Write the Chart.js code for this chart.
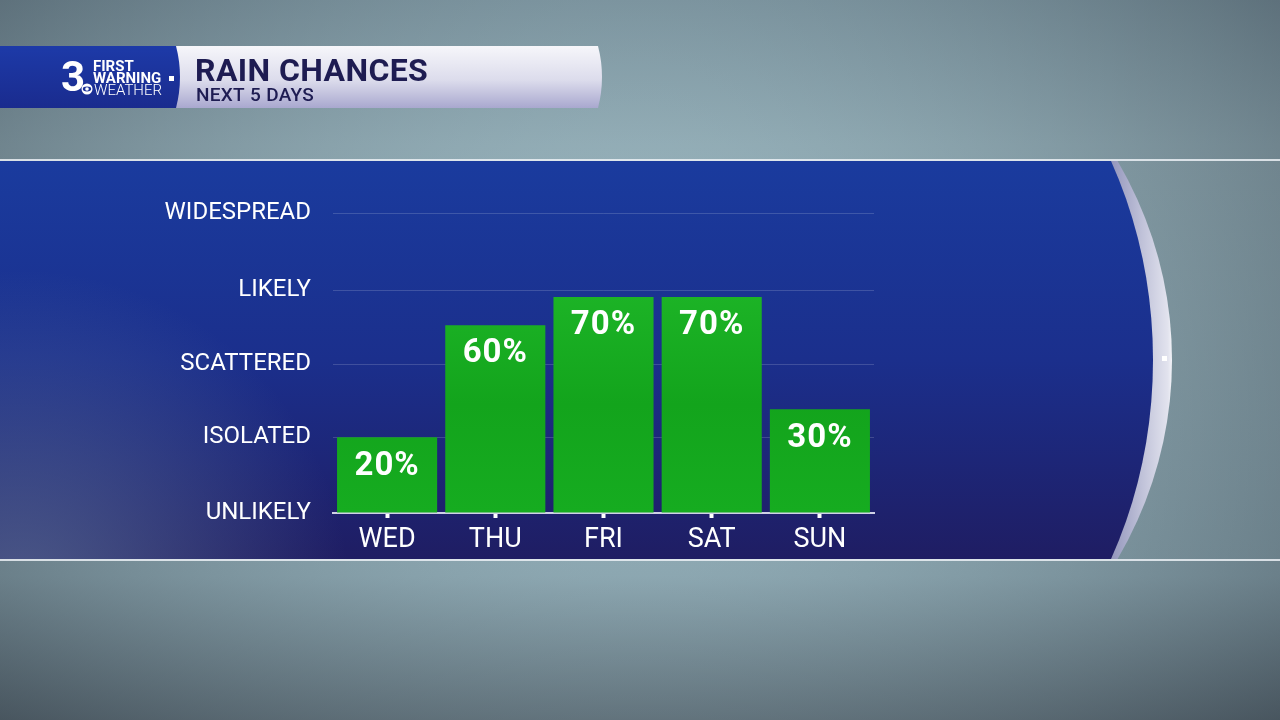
<!DOCTYPE html>
<html>
<head>
<meta charset="utf-8">
<script src="https://cdn.jsdelivr.net/npm/chart.js@4"></script>
<style>
  html, body { margin: 0; padding: 0; background: #6f8893; }
  #wrap { width: 1280px; height: 720px; position: relative; }
</style>
</head>
<body>
<div id="wrap"><canvas id="rainChart" width="1280" height="720"></canvas></div>
<script>
const days = ['WED', 'THU', 'FRI', 'SAT', 'SUN']
const rainChance = [20, 60, 70, 70, 30]
const levelLabels = ['UNLIKELY', 'ISOLATED', 'SCATTERED', 'LIKELY', 'WIDESPREAD']
const levelValues = [-7, 20, 46, 72.5, 100]

// painted backdrop: rainy window, blue panel with curved edge, title bar
const backdrop = {
    id: 'backdrop',
    beforeDraw: (chart) => {
        const ctx = chart.ctx
        ctx.save()
        // window background
        let g = ctx.createLinearGradient(0, 0, 0, 720)
        g.addColorStop(0, '#7f98a3')
        g.addColorStop(0.2, '#93adb6')
        g.addColorStop(0.8, '#88a2ac')
        g.addColorStop(1, '#56646d')
        ctx.fillStyle = g
        ctx.fillRect(0, 0, 1280, 720)
        let r = ctx.createRadialGradient(640, 380, 150, 640, 380, 800)
        r.addColorStop(0, 'rgba(160,190,200,0.25)')
        r.addColorStop(1, 'rgba(40,50,60,0.45)')
        ctx.fillStyle = r
        ctx.fillRect(0, 0, 1280, 720)

        // light rules top and bottom of panel
        ctx.fillStyle = 'rgba(235,240,245,0.85)'
        ctx.fillRect(0, 159, 1280, 2)
        ctx.fillRect(0, 559, 1280, 2)

        ctx.beginPath()
        ctx.rect(0, 161, 1280, 398)
        ctx.clip()

        // silver ring (crescent)
        let s = ctx.createLinearGradient(1105, 0, 1175, 0)
        s.addColorStop(0, '#8a8db6')
        s.addColorStop(0.55, '#c2c4da')
        s.addColorStop(0.9, '#e2e3ee')
        s.addColorStop(1, '#ffffff')
        ctx.fillStyle = s
        ctx.beginPath()
        ctx.ellipse(716, 360, 456, 420, 0, 0, Math.PI * 2)
        ctx.fill()

        // blue panel
        let b = ctx.createLinearGradient(0, 161, 0, 559)
        b.addColorStop(0, '#1a3b9e')
        b.addColorStop(0.5, '#1b2f8c')
        b.addColorStop(1, '#1f1d63')
        ctx.fillStyle = b
        ctx.beginPath()
        ctx.ellipse(801, 360, 352, 420, 0, 0, Math.PI * 2)
        ctx.fill()
        ctx.fillRect(0, 161, 800, 398)

        let low = ctx.createRadialGradient(20, 600, 10, 20, 600, 330)
        low.addColorStop(0, 'rgba(105,128,160,0.6)')
        low.addColorStop(1, 'rgba(105,128,160,0)')
        ctx.fillStyle = low
        ctx.fillRect(0, 161, 700, 398)
        ctx.restore()

        // small marker on the ring
        ctx.fillStyle = '#ffffff'
        ctx.fillRect(1162, 356, 5, 5)

        // title bar
        ctx.save()
        let w = ctx.createLinearGradient(0, 46, 0, 108)
        w.addColorStop(0, '#f6f6fa')
        w.addColorStop(0.55, '#dcdcec')
        w.addColorStop(1, '#a9a8cf')
        ctx.fillStyle = w
        ctx.beginPath()
        ctx.moveTo(170, 46)
        ctx.lineTo(598, 46)
        ctx.quadraticCurveTo(606, 77, 598, 108)
        ctx.lineTo(170, 108)
        ctx.closePath()
        ctx.fill()

        let lb = ctx.createLinearGradient(0, 46, 0, 108)
        lb.addColorStop(0, '#1d3aa8')
        lb.addColorStop(1, '#1a2b8e')
        ctx.fillStyle = lb
        ctx.beginPath()
        ctx.moveTo(0, 46)
        ctx.lineTo(176, 46)
        ctx.quadraticCurveTo(184, 77, 176, 108)
        ctx.lineTo(0, 108)
        ctx.closePath()
        ctx.fill()

        ctx.fillStyle = '#ffffff'
        ctx.textBaseline = 'alphabetic'
        ctx.textAlign = 'left'
        ctx.font = 'bold 42px Roboto'
        ctx.fillText('3', 61, 91)
        ctx.font = 'bold 15px Roboto'
        ctx.fillText('FIRST', 93, 71)
        ctx.fillText('WARNING', 93, 83)
        ctx.fillRect(169, 76, 5, 5)
        ctx.font = '300 15px Roboto'
        ctx.fillText('WEATHER', 94, 95)
        ctx.beginPath()
        ctx.arc(87, 89, 5.5, 0, Math.PI * 2)
        ctx.fill()
        ctx.fillStyle = '#1c3199'
        ctx.beginPath()
        ctx.ellipse(87, 89, 4.2, 2.4, 0, 0, Math.PI * 2)
        ctx.fill()
        ctx.fillStyle = '#ffffff'
        ctx.beginPath()
        ctx.arc(87, 89, 1.8, 0, Math.PI * 2)
        ctx.fill()

        ctx.fillStyle = '#1e1c52'
        ctx.letterSpacing = '0.4px'
        ctx.font = 'bold 32px Roboto'
        ctx.fillText('RAIN CHANCES', 195, 81)
        ctx.letterSpacing = '0.3px'
        ctx.font = '500 19px Roboto'
        ctx.fillText('NEXT 5 DAYS', 196, 101)
        ctx.restore()
    }
}

// percent text inside the top of each bar
const barText = {
    id: 'barText',
    afterDatasetsDraw: (chart) => {
        const ctx = chart.ctx
        const meta = chart.getDatasetMeta(0)
        ctx.save()
        ctx.fillStyle = '#ffffff'
        ctx.font = 'bold 33px Roboto'
        ctx.letterSpacing = '1px'
        ctx.textAlign = 'center'
        ctx.textBaseline = 'middle'
        meta.data.forEach((bar, i) => {
            ctx.fillText(rainChance[i] + '%', bar.x, bar.y + 29)
        })
        ctx.restore()
    }
}

const ctx = document.getElementById('rainChart').getContext('2d')
const green = ctx.createLinearGradient(0, 296, 0, 512)
green.addColorStop(0, '#1cb326')
green.addColorStop(0.5, '#13a41c')
green.addColorStop(1, '#16ac20')

new Chart(ctx, {
    type: 'bar',
    data: {
        labels: days,
        datasets: [{
            data: rainChance,
            backgroundColor: green,
            borderWidth: 0,
            barPercentage: 0.925,
            categoryPercentage: 1,
            base: levelValues[0]
        }]
    },
    options: {
        responsive: false,
        animation: false,
        devicePixelRatio: 1,
        layout: { padding: { left: 0, right: 406, top: 213, bottom: 160 } },
        plugins: { legend: { display: false }, tooltip: { enabled: false } },
        scales: {
            x: {
                grid: {
                    display: true,
                    offset: false,
                    drawOnChartArea: false,
                    drawTicks: true,
                    tickLength: 5,
                    tickWidth: 4,
                    tickColor: '#ffffff'
                },
                border: { display: true, color: '#cfd2e6', width: 2 },
                ticks: {
                    color: '#ffffff',
                    padding: 6,
                    font: { family: 'Roboto', size: 27 }
                },
                afterFit: (axis) => { axis.height = 47 }
            },
            y: {
                min: levelValues[0],
                max: 100,
                afterBuildTicks: (axis) => {
                    axis.ticks = levelValues.map(v => ({ value: v }))
                },
                grid: {
                    color: 'rgba(255,255,255,0.16)',
                    lineWidth: 1,
                    drawTicks: false
                },
                border: { display: false },
                ticks: {
                    color: '#ffffff',
                    padding: 22,
                    font: { family: 'Roboto', size: 24 },
                    callback: (value, index) => levelLabels[index]
                },
                afterFit: (axis) => { axis.width = 333 }
            }
        }
    },
    plugins: [backdrop, barText]
})
</script>
</body>
</html>
